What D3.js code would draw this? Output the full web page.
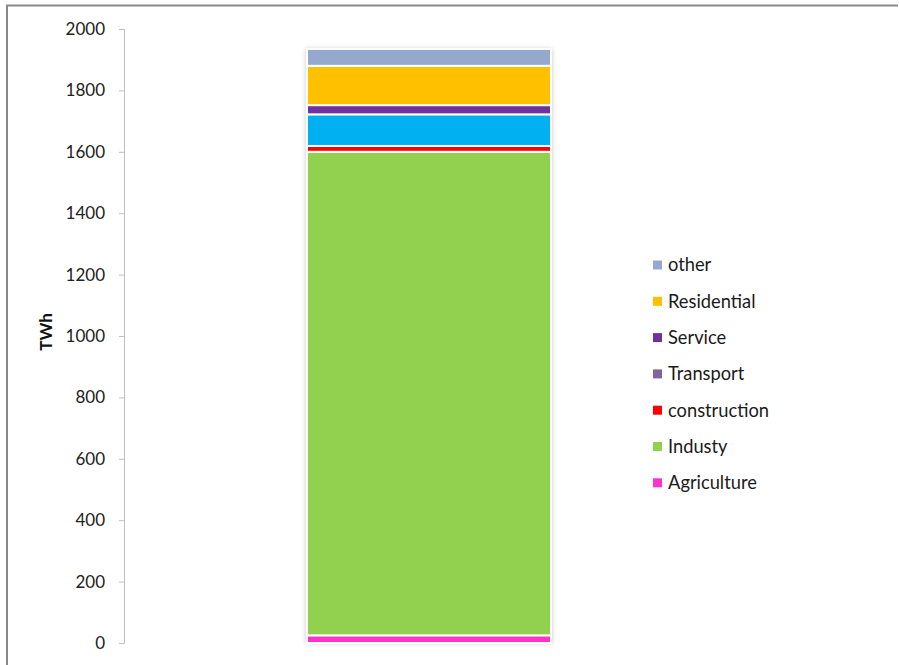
<!DOCTYPE html>
<html><head><meta charset="utf-8">
<script src="https://cdn.jsdelivr.net/npm/d3@7"></script>
<style>body{margin:0;background:#fff;}svg{display:block;font-family:Lato,"Liberation Sans",sans-serif;}</style>
</head><body>
<svg id="c" width="899" height="665"></svg>
<script>
const series = ["Agriculture","Industy","construction","Transport","Service","Residential","other"];
const values = [25, 1575, 19, 103, 30, 128, 55];
const barColors = ["#FF33CC","#92D050","#FF0000","#00B0F0","#7030A0","#FFC000","#95A9CF"];
const legendColors = ["#FF33CC","#92D050","#FF0000","#8064A2","#7030A0","#FFC000","#95A9CF"];
const yTicks = [0,200,400,600,800,1000,1200,1400,1600,1800,2000];
const yLabel = "TWh";

const svg = d3.select("#c");
// outer border (top and left visible)
svg.append("path").attr("d","M7,670V5.5H898").attr("fill","none").attr("stroke","#898989").attr("stroke-width",2);

const y = d3.scaleLinear().domain([0,2000]).range([643,29]);

const defs = svg.append("defs");
const f = defs.append("filter").attr("id","sh").attr("x","-10%").attr("y","-5%").attr("width","120%").attr("height","110%");
f.append("feGaussianBlur").attr("stdDeviation",2.5);

// axis
const ax = d3.axisLeft(y).tickValues(yTicks).tickSize(5).tickPadding(14).tickFormat(d3.format("d"));
const g = svg.append("g").attr("transform","translate(124,0)").call(ax);
g.select(".domain").attr("stroke","#BFBFBF").attr("d","M-5,29.5H0.5V643.5H-5");
g.selectAll(".tick line").attr("stroke","#BFBFBF");
g.selectAll(".tick text").attr("font-size",17).attr("fill","#222").attr("font-family","Lato,sans-serif");

svg.append("text").attr("transform","translate(52,332) rotate(-90)").attr("text-anchor","middle")
  .attr("font-weight","bold").attr("font-size",17).attr("fill","#111").text(yLabel);

// stack
let acc = 0;
const segs = values.map((v,i)=>{const s={name:series[i],y0:acc,y1:acc+v,color:barColors[i]}; acc+=v; return s;});
const bx = 307, bw = 244;
svg.append("rect").attr("x",bx-1).attr("y",y(acc)).attr("width",bw+2).attr("height",y(0)-y(acc))
  .attr("fill","#999").attr("opacity",0.55).attr("filter","url(#sh)");
svg.append("rect").attr("x",bx).attr("y",y(acc)-1).attr("width",bw).attr("height",y(0)-y(acc)+2).attr("fill","#fff");
svg.append("g").selectAll("rect").data(segs).join("rect")
  .attr("x",bx).attr("width",bw)
  .attr("y",d=>y(d.y1)).attr("height",d=>y(d.y0)-y(d.y1))
  .attr("fill",d=>d.color).attr("stroke","#fff").attr("stroke-width",2);

// legend
const leg = svg.append("g");
const order = series.map((s,i)=>i).reverse();
order.forEach((i,k)=>{
  const cy = 265 + k*36.3;
  leg.append("rect").attr("x",653).attr("y",cy-4.5).attr("width",9).attr("height",9).attr("fill",legendColors[i]);
  leg.append("text").attr("x",668).attr("y",cy).attr("dy","0.35em").attr("font-size",18.3).attr("fill","#1a1a1a").text(series[i]);
});
</script>
</body></html>
